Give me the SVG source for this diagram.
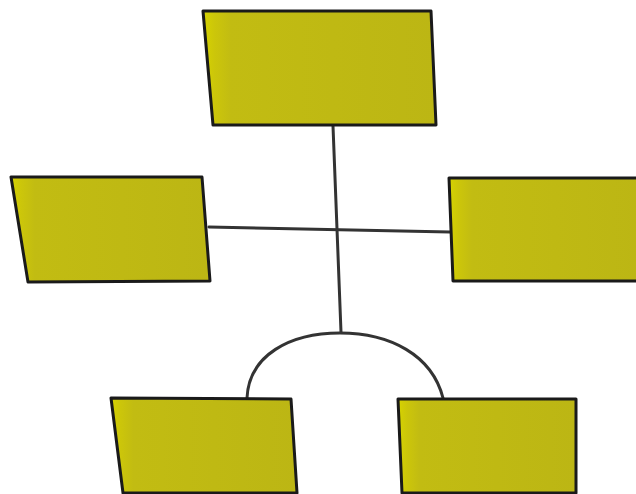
<svg xmlns="http://www.w3.org/2000/svg" width="636" height="494" viewBox="0 0 636 494">
<defs>
<linearGradient id="g" x1="0" y1="0" x2="1" y2="0">
<stop offset="0" stop-color="#d6d300"/>
<stop offset="0.05" stop-color="#ccc60a"/>
<stop offset="0.12" stop-color="#c2bc12"/>
<stop offset="1" stop-color="#bcb614"/>
</linearGradient>
</defs>
<style>
.box{fill:url(#g);stroke:#1a1a1a;stroke-width:3;stroke-linejoin:round}
.ln{fill:none;stroke:#333;stroke-width:3;stroke-linecap:round}
</style>
<g id="connectors">
<path class="ln" d="M333 126 L341 332"/>
<path class="ln" d="M209 227 L450 232"/>
<path class="ln" d="M247 398 C249 355 290 333 340 333 C390 333 432 355 443 398"/>
</g>
<g id="top"><path class="box" d="M203 11 L431 11 L436 125 L213 125 Z"/></g>
<g id="left"><path class="box" d="M11 177 L202 177 L210 281 L28 282 Z"/></g>
<g id="right"><path class="box" d="M449 178 L640 178 L640 281 L453 281 Z"/></g>
<g id="bottomleft"><path class="box" d="M111 398 L291 399 L297 493 L123 493 Z"/></g>
<g id="bottomright"><path class="box" d="M398 399 L576 399 L576 493 L402 493 Z"/></g>
</svg>
